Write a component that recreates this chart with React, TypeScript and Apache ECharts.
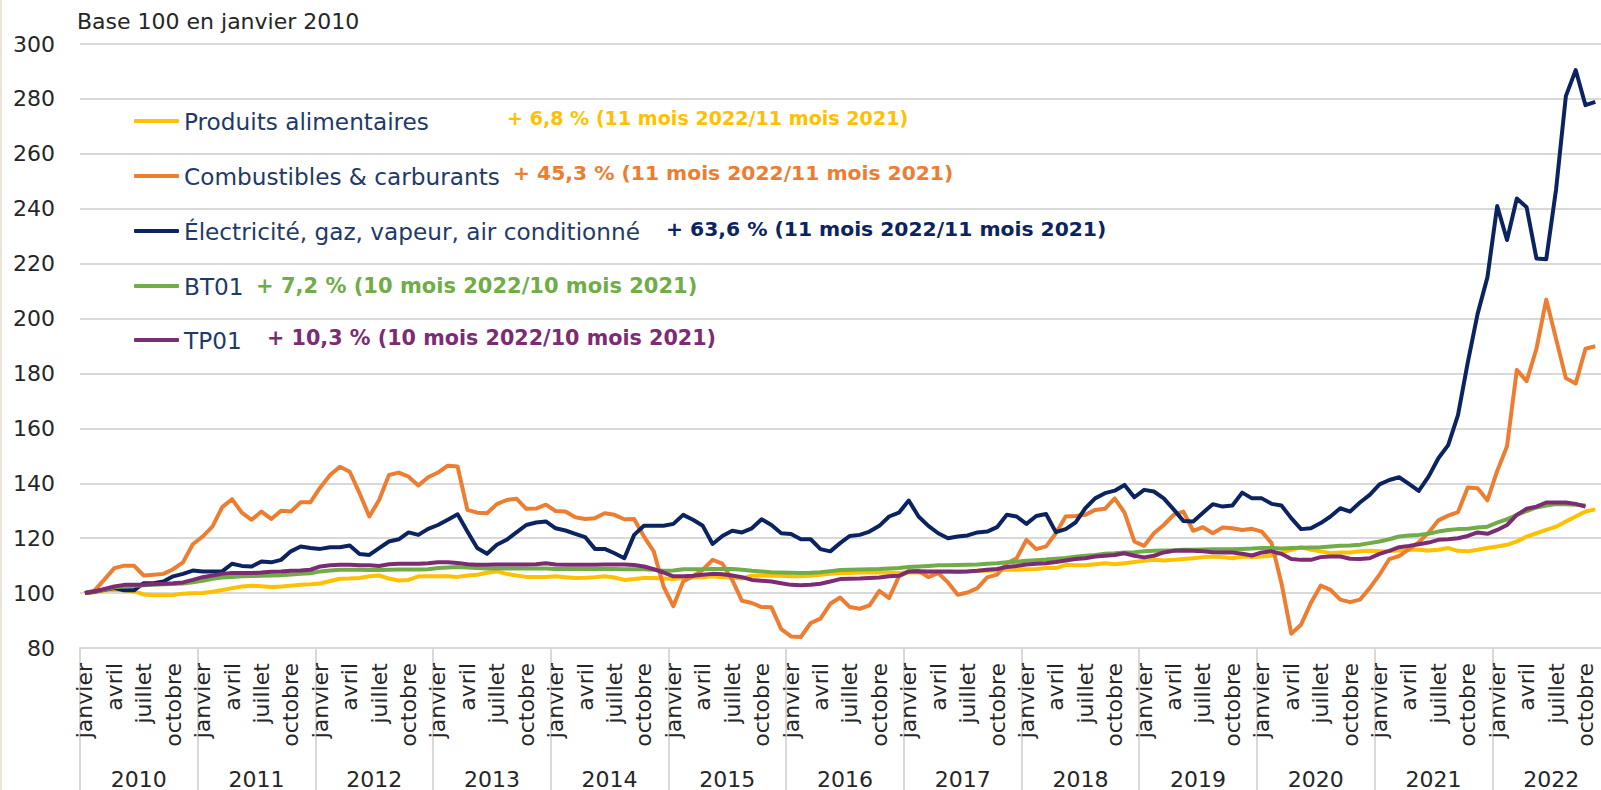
import React, { useEffect, useRef } from 'react';
import * as echarts from 'echarts';

const FONT = 'DejaVu Sans';

const MONTH_NAMES = ['janvier', 'février', 'mars', 'avril', 'mai', 'juin', 'juillet', 'août', 'septembre', 'octobre', 'novembre', 'décembre'];
const YEARS = ['2010', '2011', '2012', '2013', '2014', '2015', '2016', '2017', '2018', '2019', '2020', '2021', '2022'];
const MONTHS = YEARS.flatMap((y) => MONTH_NAMES.map((m) => `${m} ${y}`));

const SERIES_NAMES = [
  'Produits alimentaires',
  'Combustibles & carburants',
  'Électricité, gaz, vapeur, air conditionné',
  'BT01',
  'TP01',
];
const SERIES_COLORS = ['#FFC000', '#ED7D31', '#0B2461', '#70AD47', '#7B2C72'];
const VARIATIONS = [
  '+ 6,8 % (11 mois 2022/11 mois 2021)',
  '+ 45,3 % (11 mois 2022/11 mois 2021)',
  '+ 63,6 % (11 mois 2022/11 mois 2021)',
  '+ 7,2 % (10 mois 2022/10 mois 2021)',
  '+ 10,3 % (10 mois 2022/10 mois 2021)',
];

const alimentaires = [
  100, 100.3, 100.9, 101.2, 101, 100.6, 99.5, 99.2, 99.2, 99.3, 99.8, 99.9,
  100, 100.5, 101.1, 101.8, 102.4, 102.7, 102.5, 102.2, 102.4, 102.7, 103, 103.2,
  103.5, 104.4, 105.2, 105.3, 105.5, 106.1, 106.4, 105.3, 104.6, 104.8, 106.1, 106.1,
  106.1, 106.1, 105.9, 106.4, 106.7, 107.4, 107.9, 107, 106.4, 105.9, 105.9, 105.9,
  106.1, 105.8, 105.5, 105.6, 105.8, 106.1, 105.7, 104.8, 105.1, 105.5, 105.5, 105.3,
  105.1, 105.5, 105.7, 105.8, 106.1, 105.8, 105.7, 105.3, 106.3, 106.4, 106.3, 106.3,
  106.1, 106.1, 106.3, 106.7, 107, 107.3, 107.3, 107.5, 107.5, 107.5, 107.5, 107.3,
  107.5, 107.5, 107.6, 107.6, 107.8, 107.9, 108, 108.1, 108.1, 108.2, 108.5, 108.5,
  108.7, 108.8, 109.1, 109.1, 110.3, 110.1, 110.1, 110.5, 110.9, 110.5, 110.9, 111.3,
  111.8, 112.1, 111.9, 112.1, 112.4, 112.7, 113.1, 113.3, 113.1, 112.7, 113.3, 113.1,
  113.3, 113.6, 114.8, 115.8, 116.7, 115.8, 115.2, 114.5, 114.8, 114.8, 115.2, 115.4,
  115.2, 115.3, 115.5, 115.8, 115.8, 115.5, 115.8, 116.4, 115.4, 115.2, 115.8, 116.4,
  117, 117.6, 118.8, 120.6, 121.8, 123, 124.2, 126.1, 127.9, 129.7, 130.5,
];

const combustibles = [
  100, 101, 105, 109.1, 110, 110, 106.4, 106.7, 107, 108.7, 111.2, 117.8,
  120.6, 124.2, 131.3, 134.2, 129.3, 126.7, 129.7, 127, 130, 129.7, 133.1, 133.1,
  138.5, 143, 146, 144.2, 136.4, 127.9, 133.9, 143, 143.9, 142.4, 139.2, 142.2,
  143.9, 146.4, 146.1, 130.3, 129.3, 129.1, 132.4, 133.9, 134.4, 130.7, 130.8, 132.2,
  129.9, 129.7, 127.6, 127, 127.3, 129.1, 128.5, 126.9, 127, 120.6, 115.2, 102.4,
  95.2, 104.2, 106.1, 108.5, 112.1, 110.7, 104.8, 97.2, 96.4, 94.9, 94.8, 86.9,
  84.2, 84, 89.1, 90.7, 96.1, 98.4, 94.9, 94.3, 95.5, 100.8, 98.2, 106.1,
  107.9, 108.1, 105.8, 107.3, 103.9, 99.4, 100.2, 101.8, 105.7, 106.7, 110.9, 112.7,
  119.4, 116, 117, 121.8, 127.9, 128.1, 128.5, 130.3, 130.7, 134.5, 129.3, 118.8,
  117.2, 121.8, 124.8, 128.5, 129.7, 122.7, 124, 121.8, 123.9, 123.6, 123, 123.4,
  122.4, 118.2, 103.6, 85.2, 88.5, 96.4, 102.7, 101.2, 97.6, 96.7, 97.6, 101.8,
  106.7, 112.4, 113.5, 116, 118.5, 122, 126.5, 128.2, 129.5, 138.5, 138.2, 133.8,
  144.5, 153.5, 181.3, 177.2, 189, 206.9, 192.6, 178.3, 176.3, 189, 189.9,
];

const electricite = [
  100, 100.6, 101.2, 101.8, 101, 101, 103.6, 103.6, 104.2, 106.1, 107, 108.2,
  107.9, 107.9, 107.9, 110.7, 109.9, 109.7, 111.5, 111.2, 112.1, 115.2, 117, 116.4,
  116.1, 116.7, 116.7, 117.3, 114.2, 113.9, 116.4, 118.8, 119.6, 122.1, 121.2, 123.4,
  124.8, 126.7, 128.7, 122.4, 116.4, 114.3, 117.6, 119.4, 122.1, 124.8, 125.7, 126.1,
  123.6, 122.8, 121.6, 120.4, 116.1, 116.1, 114.5, 112.7, 121.2, 124.5, 124.5, 124.5,
  125.2, 128.5, 126.7, 124.5, 117.9, 120.8, 122.7, 122.1, 123.6, 126.9, 124.8, 121.8,
  121.5, 119.6, 119.6, 116, 115.2, 118.2, 120.8, 121.2, 122.4, 124.5, 127.9, 129.3,
  133.7, 127.9, 124.5, 121.8, 120, 120.6, 121, 122.1, 122.4, 124, 128.5, 127.9,
  125.2, 128.1, 128.8, 122.2, 123.3, 125.7, 130.9, 134.5, 136.4, 137.3, 139.4, 134.9,
  137.6, 137, 134.5, 130.5, 126.3, 126.1, 129.3, 132.4, 131.5, 131.9, 136.6, 134.5,
  134.5, 132.5, 131.9, 127.3, 123.3, 123.6, 125.5, 127.9, 130.9, 129.7, 133, 135.8,
  139.6, 141.2, 142.2, 139.8, 137.2, 142.4, 149.1, 153.9, 164.8, 184, 201.7, 215,
  241, 228.6, 243.7, 240.5, 221.9, 221.6, 247, 281, 290.5, 277.7, 278.9,
];

const bt01 = [
  100, 100.4, 101.2, 102.1, 102.4, 102.7, 102.9, 103, 103.2, 103.3, 103.5, 103.9,
  104.5, 105.2, 105.7, 105.9, 106.1, 106.2, 106.3, 106.4, 106.5, 106.8, 107, 107.2,
  107.9, 108.2, 108.5, 108.5, 108.5, 108.4, 108.4, 108.5, 108.6, 108.6, 108.6, 108.7,
  109.1, 109.3, 109.5, 109.3, 109.1, 109, 109, 109, 109, 109, 109, 109,
  108.8, 108.8, 108.8, 108.8, 108.8, 108.8, 108.8, 108.7, 108.7, 108.7, 108.5, 108.1,
  108.2, 108.7, 108.7, 108.7, 108.8, 108.8, 108.8, 108.5, 108.1, 107.9, 107.6, 107.5,
  107.4, 107.3, 107.4, 107.6, 108, 108.4, 108.5, 108.6, 108.7, 108.8, 109, 109.1,
  109.5, 109.7, 109.9, 110.1, 110.1, 110.2, 110.3, 110.4, 110.7, 110.9, 111.2, 111.4,
  111.8, 112, 112.2, 112.5, 112.8, 113.2, 113.6, 113.9, 114.3, 114.5, 114.8, 114.9,
  115.2, 115.4, 115.5, 115.6, 115.8, 115.8, 115.9, 116, 116, 116, 116.1, 116.2,
  116.4, 116.4, 116.2, 116.4, 116.5, 116.6, 116.7, 117, 117.2, 117.3, 117.6, 118.2,
  118.8, 119.6, 120.6, 121, 121.2, 121.6, 122.4, 123, 123.3, 123.4, 123.9, 124.2,
  125.7, 126.9, 128.5, 129.9, 131.2, 131.9, 132.4, 132.4, 132.2, 131.9,
];

const tp01 = [
  100, 100.6, 101.5, 102.4, 103, 103, 103, 103.3, 103.4, 103.6, 103.9, 104.8,
  105.8, 106.4, 107, 107.3, 107.3, 107.3, 107.5, 107.8, 107.9, 108.1, 108.2, 108.5,
  109.7, 110.1, 110.3, 110.3, 110.1, 110.1, 109.9, 110.5, 110.7, 110.7, 110.7, 110.9,
  111.2, 111.2, 111, 110.5, 110.3, 110.3, 110.4, 110.4, 110.4, 110.4, 110.5, 110.9,
  110.4, 110.3, 110.3, 110.3, 110.3, 110.4, 110.4, 110.4, 110.2, 109.7, 108.7, 107.5,
  106.1, 106.1, 106.3, 106.7, 107, 106.9, 106.4, 105.8, 104.8, 104.5, 104.2, 103.6,
  103, 102.9, 103, 103.4, 104.2, 105.1, 105.2, 105.3, 105.5, 105.7, 106.1, 106.3,
  107.9, 108, 107.9, 107.9, 107.9, 107.8, 107.9, 108.1, 108.5, 108.8, 109.5, 109.9,
  110.4, 110.7, 110.9, 111.3, 111.9, 112.4, 112.7, 113.3, 113.6, 113.9, 114.5, 113.6,
  113, 113.6, 114.8, 115.4, 115.5, 115.4, 115.2, 114.9, 114.8, 114.8, 114.3, 113.7,
  114.8, 115.2, 114.3, 112.4, 112.1, 112.1, 113.1, 113.3, 113.3, 112.5, 112.4, 112.7,
  114.3, 115.4, 116.7, 117.2, 117.8, 118.4, 119.4, 119.6, 120, 120.8, 122.1, 121.6,
  123, 124.8, 128.5, 130.7, 131.5, 133, 133, 133, 132.5, 131.5,
];

const SERIES_DATA = [alimentaires, combustibles, electricite, bt01, tp01];
const Y_MIN = 80;
const Y_MAX = 300;
const Y_STEP = 20;

// layout (pixels)
const LEGEND_CENTERS = [121, 176, 231, 286, 340];
const VARIATION_X = [507, 513, 666, 256, 267];
const VARIATION_Y = [118, 173, 229, 285.5, 337.5];
const VARIATION_SIZE = [19.1, 20.3, 20.3, 21, 20.7];

const TEXT_COLOR = '#262626';
const LEGEND_TEXT = '#1F3A68';
const GRID_COLOR = '#d9d9d9';

export default function App() {
  const ref = useRef<HTMLDivElement>(null);

  useEffect(() => {
    if (!ref.current) return;
    const chart = echarts.init(ref.current, undefined, { renderer: 'svg' });
    const option: any = {
      animation: false,
      backgroundColor: '#ffffff',
      title: {
        text: 'Base 100 en janvier 2010',
        left: 77,
        top: 10,
        padding: 0,
        textStyle: { fontFamily: FONT, fontSize: 22, fontWeight: 'normal', color: TEXT_COLOR },
      },
      legend: SERIES_NAMES.map((name, k) => ({
        data: [name],
        left: 134,
        top: LEGEND_CENTERS[k] - 12,
        padding: 0,
        icon: 'roundRect',
        itemWidth: 45,
        itemHeight: 4,
        selectedMode: false,
        textStyle: { fontFamily: FONT, fontSize: 23.2, color: LEGEND_TEXT, lineHeight: 24 },
      })),
      graphic: VARIATIONS.map((t, k) => ({
        type: 'text',
        x: VARIATION_X[k],
        y: VARIATION_Y[k],
        style: {
          text: t,
          fill: SERIES_COLORS[k],
          fontFamily: FONT,
          fontSize: VARIATION_SIZE[k],
          fontWeight: 'bold',
          align: 'left',
          verticalAlign: 'middle',
        },
      })),
      grid: { left: 80, right: 15, top: 44, bottom: 141.7, containLabel: false },
      xAxis: [
        {
          type: 'category',
          data: MONTHS,
          boundaryGap: true,
          axisLine: { show: true, lineStyle: { color: GRID_COLOR, width: 2 } },
          axisTick: { show: false },
          axisLabel: {
            interval: (index: number) => index % 3 === 0,
            rotate: 90,
            margin: 15,
            fontFamily: FONT,
            fontSize: 22,
            color: TEXT_COLOR,
            formatter: (v: string) => v.split(' ')[0],
          },
          splitLine: { show: false },
        },
        {
          type: 'category',
          data: YEARS,
          boundaryGap: true,
          position: 'bottom',
          axisLine: { show: false },
          axisTick: { show: true, interval: 0, length: 160, lineStyle: { color: GRID_COLOR, width: 2 } },
          axisLabel: {
            interval: 0,
            margin: 120,
            fontFamily: FONT,
            fontSize: 22,
            color: TEXT_COLOR,
          },
          splitLine: { show: false },
        },
      ],
      yAxis: {
        type: 'value',
        min: Y_MIN,
        max: Y_MAX,
        interval: Y_STEP,
        axisLine: { show: false },
        axisTick: { show: false },
        axisLabel: { margin: 25, fontFamily: FONT, fontSize: 22, color: TEXT_COLOR },
        splitLine: { lineStyle: { color: GRID_COLOR, width: 2 } },
      },
      series: SERIES_NAMES.map((name, k) => ({
        name,
        type: 'line',
        xAxisIndex: 0,
        yAxisIndex: 0,
        data: SERIES_DATA[k],
        symbol: 'none',
        color: SERIES_COLORS[k],
        lineStyle: { width: 4, color: SERIES_COLORS[k], join: 'round' },
      })),
    };
    chart.setOption(option);
    return () => chart.dispose();
  }, []);

  return (
    <div style={{ position: 'fixed', left: 0, top: 0, width: 1601, height: 790, overflow: 'hidden', background: '#fff' }}>
      <div ref={ref} style={{ position: 'absolute', left: 0, top: 0, width: 1625, height: 790 }} />
      <div style={{ position: 'absolute', left: 0, top: 0, width: 2, height: 790, background: '#ece6d8' }} />
    </div>
  );
}
